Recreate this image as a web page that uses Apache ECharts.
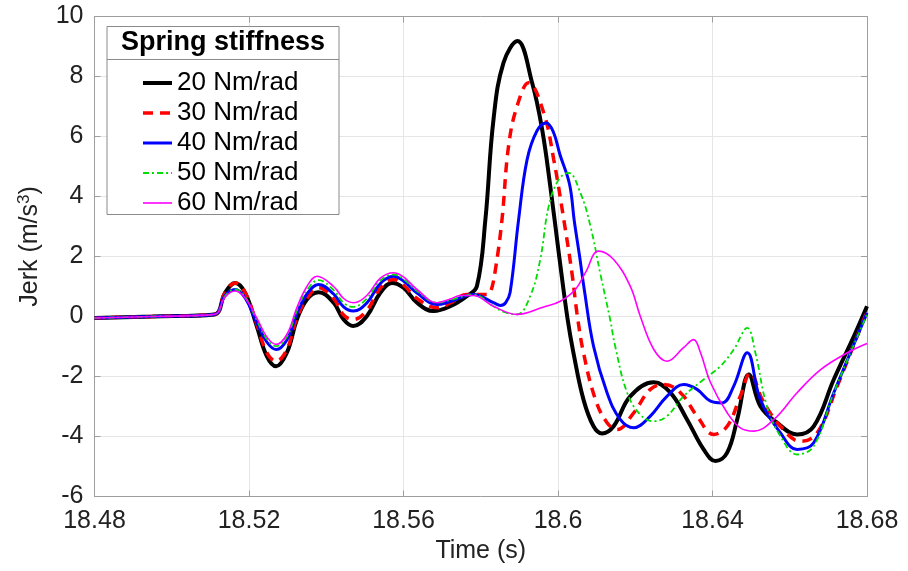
<!DOCTYPE html>
<html>
<head>
<meta charset="utf-8">
<script src="https://cdn.jsdelivr.net/npm/echarts@6/dist/echarts.min.js"></script>
<style>
  html, body { margin: 0; padding: 0; background: #fff; }
  #chart { width: 908px; height: 571px; }
</style>
</head>
<body>
<div id="chart"></div>
<script>
// legend labels
var names = ['20 Nm/rad', '30 Nm/rad', '40 Nm/rad', '50 Nm/rad', '60 Nm/rad'];

// 20 Nm/rad
var t20 = [18.48, 18.495, 18.511, 18.5138, 18.5164, 18.519, 18.522, 18.5246, 18.527, 18.5298, 18.5324, 18.535, 18.538, 18.5419, 18.5445, 18.547, 18.5505, 18.554, 18.557, 18.56, 18.5635, 18.5678, 18.5721, 18.5764, 18.579, 18.5812, 18.5833, 18.5859, 18.5895, 18.5933, 18.5959, 18.598, 18.6002, 18.6025, 18.604, 18.6066, 18.6092, 18.6114, 18.6144, 18.6187, 18.6248, 18.6291, 18.6334, 18.6377, 18.6408, 18.6438, 18.6464, 18.6494, 18.6524, 18.6567, 18.6619, 18.6662, 18.6714, 18.6766, 18.68];
var j20 = [-0.05, 0.0, 0.07, 0.79, 1.12, 0.79, -0.32, -1.32, -1.66, -1.21, -0.1, 0.57, 0.81, 0.46, -0.1, -0.32, 0.01, 0.79, 1.12, 0.96, 0.46, 0.18, 0.34, 0.68, 1.01, 3.23, 6.57, 8.46, 9.18, 7.79, 6.23, 4.34, 2.12, -0.1, -1.21, -2.77, -3.66, -3.9, -3.66, -2.66, -2.19, -2.54, -3.43, -4.43, -4.82, -4.54, -3.43, -1.93, -2.99, -3.54, -3.93, -3.66, -2.1, -0.66, 0.34];

// 30 Nm/rad
var t30 = [18.48, 18.495, 18.511, 18.5138, 18.5164, 18.519, 18.522, 18.5246, 18.527, 18.5298, 18.5324, 18.535, 18.538, 18.5419, 18.5445, 18.547, 18.5505, 18.554, 18.5574, 18.56, 18.5635, 18.5687, 18.5721, 18.5764, 18.5816, 18.5825, 18.5838, 18.5855, 18.5872, 18.5894, 18.5924, 18.5963, 18.5989, 18.6015, 18.6036, 18.6049, 18.6066, 18.6097, 18.6127, 18.6153, 18.6196, 18.6239, 18.6274, 18.6317, 18.636, 18.6403, 18.6438, 18.6472, 18.6498, 18.6529, 18.6576, 18.6628, 18.6671, 18.6723, 18.68];
var j30 = [-0.05, 0, 0.07, 0.8, 1.12, 0.8, -0.25, -1.2, -1.49, -1.1, -0.05, 0.6, 0.96, 0.6, 0.05, -0.1, 0.2, 0.95, 1.23, 1.05, 0.6, 0.29, 0.45, 0.73, 0.73, 0.8, 1.57, 3.23, 5.68, 7.01, 7.79, 6.79, 5.23, 3.23, 1.46, 0.12, -1.21, -2.77, -3.54, -3.77, -3.21, -2.43, -2.27, -2.54, -3.32, -3.93, -3.66, -2.66, -1.88, -2.77, -3.66, -4.16, -3.88, -2.32, 0.18];

// 40 Nm/rad
var t40 = [18.48, 18.495, 18.511, 18.5138, 18.5164, 18.519, 18.522, 18.5246, 18.527, 18.5298, 18.5324, 18.535, 18.538, 18.5419, 18.5445, 18.547, 18.5505, 18.554, 18.5574, 18.56, 18.5635, 18.5687, 18.5721, 18.5781, 18.5833, 18.5851, 18.5864, 18.5876, 18.5898, 18.592, 18.5946, 18.597, 18.5988, 18.6005, 18.603, 18.6042, 18.6056, 18.6068, 18.6092, 18.6127, 18.6161, 18.6196, 18.6239, 18.6282, 18.6325, 18.636, 18.6395, 18.6425, 18.6455, 18.649, 18.6524, 18.6576, 18.6619, 18.6662, 18.6714, 18.68];
var j40 = [-0.05, 0, 0.07, 0.7, 0.9, 0.62, -0.2, -0.85, -1.1, -0.78, 0.1, 0.75, 1.07, 0.75, 0.32, 0.18, 0.45, 1.1, 1.34, 1.18, 0.78, 0.4, 0.5, 0.73, 0.46, 0.37, 0.45, 0.8, 3.23, 5.23, 6.2, 6.45, 6.15, 5.4, 4.4, 3.2, 2.0, 0.9, -0.99, -2.54, -3.43, -3.71, -3.32, -2.66, -2.27, -2.43, -2.82, -2.88, -2.32, -1.21, -2.77, -3.88, -4.43, -4.21, -2.54, 0.12];

// 50 Nm/rad
var t50 = [18.48, 18.495, 18.511, 18.5138, 18.5164, 18.519, 18.522, 18.5246, 18.527, 18.5298, 18.5324, 18.535, 18.538, 18.5419, 18.5445, 18.547, 18.5505, 18.554, 18.5574, 18.56, 18.5635, 18.5687, 18.5721, 18.5781, 18.5833, 18.586, 18.5894, 18.5928, 18.5954, 18.5976, 18.6002, 18.6027, 18.6058, 18.6084, 18.611, 18.6135, 18.6148, 18.6179, 18.6213, 18.6248, 18.6282, 18.6325, 18.6377, 18.642, 18.6455, 18.649, 18.6511, 18.6541, 18.6576, 18.6619, 18.6662, 18.6714, 18.68];
var j50 = [-0.05, 0, 0.07, 0.68, 0.9, 0.65, -0.12, -0.75, -0.99, -0.68, 0.2, 0.88, 1.21, 0.88, 0.45, 0.32, 0.6, 1.2, 1.4, 1.25, 0.85, 0.46, 0.55, 0.73, 0.34, 0.15, 0.07, 0.68, 1.9, 3.68, 4.57, 4.79, 4.12, 3.01, 1.4, -0.1, -0.99, -2.54, -3.27, -3.49, -3.32, -2.66, -2.1, -1.66, -1.1, -0.38, -1.21, -2.99, -3.99, -4.6, -4.32, -2.54, 0.07];

// 60 Nm/rad
var t60 = [18.48, 18.495, 18.511, 18.5138, 18.5164, 18.519, 18.522, 18.5246, 18.527, 18.5298, 18.5324, 18.535, 18.5376, 18.5419, 18.5445, 18.547, 18.5505, 18.554, 18.5574, 18.56, 18.5635, 18.5687, 18.5721, 18.5747, 18.5781, 18.5833, 18.5894, 18.5963, 18.6006, 18.6045, 18.6071, 18.6105, 18.6144, 18.6187, 18.6213, 18.6248, 18.6282, 18.6325, 18.6351, 18.6369, 18.6395, 18.6438, 18.6472, 18.6507, 18.6559, 18.6619, 18.668, 18.6749, 18.68];
var j60 = [-0.05, 0, 0.07, 0.65, 0.85, 0.62, -0.05, -0.68, -0.93, -0.6, 0.3, 1.0, 1.34, 1.0, 0.6, 0.46, 0.7, 1.28, 1.46, 1.32, 0.9, 0.46, 0.58, 0.7, 0.7, 0.34, 0.07, 0.32, 0.51, 0.9, 1.46, 2.18, 1.9, 1.01, 0.01, -1.1, -1.49, -1.04, -0.77, -1.21, -2.21, -3.21, -3.71, -3.82, -3.43, -2.54, -1.77, -1.21, -0.9];

var xTicks = [18.48, 18.52, 18.56, 18.6, 18.64, 18.68];
var yTicks = [-6, -4, -2, 0, 2, 4, 6, 8, 10];

function pairs(t, v) {
    var out = [];
    for (var i = 0; i < Math.min(t.length, v.length); i++) out.push([t[i], v[i]]);
    return out;
}

var font = 'Liberation Sans, Arial, sans-serif';
var frame = '#9e9e9e';

// line looks per series: colour, width, dash
var styles = [
    { color: '#000000', width: 4, type: 'solid' },
    { color: '#ff0000', width: 3.5, type: [10, 7] },
    { color: '#0000ff', width: 3, type: 'solid' },
    { color: '#00dd00', width: 1.8, type: [6, 3, 2, 3] },
    { color: '#ff00ff', width: 1.6, type: 'solid' }
];

var chartDom = document.getElementById('chart');
var myChart = echarts.init(chartDom);
var option;

function mkLine(i, t, v) {
    var s = styles[i];
    return {
        name: names[i],
        type: 'line',
        data: pairs(t, v),
        smooth: 0.4,
        symbol: 'none',
        z: 2 + i,
        lineStyle: { color: s.color, width: s.width, type: s.type },
        itemStyle: { color: s.color },
        animation: false
    };
}

option = {
    backgroundColor: '#fff',
    animation: false,
    grid: { left: 94.5, right: 41, top: 16.5, bottom: 74.5, containLabel: false },
    graphic: [
        { type: 'rect', z: 5, shape: { x: 107, y: 26.5, width: 232, height: 188 },
          style: { fill: '#fff', stroke: '#8a8a8a', lineWidth: 1 } },
        { type: 'line', z: 6, shape: { x1: 107, y1: 59.5, x2: 339, y2: 59.5 },
          style: { stroke: '#8a8a8a', lineWidth: 1 } },
        { type: 'text', z: 6, x: 223, y: 43,
          style: { text: 'Spring stiffness', font: 'bold 27px ' + font, fill: '#000',
                   textAlign: 'center', textVerticalAlign: 'middle' } }
    ],
    legend: {
        data: names.map(function(n, i) {
            return { name: n, lineStyle: { width: styles[i].width, type: styles[i].type, color: styles[i].color } };
        }),
        orient: 'vertical',
        left: 136,
        top: 65,
        z: 10,
        itemWidth: 29,
        itemHeight: 14,
        itemGap: 4,
        selectedMode: false,
        itemStyle: { opacity: 0 },
        textStyle: { fontFamily: font, fontSize: 26, color: '#000', lineHeight: 26 }
    },
    xAxis: [{
        type: 'value',
        min: 18.48, max: 18.68, interval: 0.04,
        name: 'Time (s)',
        nameLocation: 'middle',
        nameGap: 38,
        nameTextStyle: { fontFamily: font, fontSize: 25, color: '#222' },
        axisLine: { onZero: false, lineStyle: { color: frame } },
        axisTick: { inside: true, length: 6, lineStyle: { color: frame } },
        axisLabel: { fontFamily: font, fontSize: 25, color: '#222', margin: 12,
                     formatter: function(v) { return String(+v.toFixed(2)); } },
        splitLine: { show: true, lineStyle: { color: '#e6e6e6' } }
    }, {
        type: 'value', position: 'top',
        min: 18.48, max: 18.68, interval: 0.04,
        axisLine: { show: true, onZero: false, lineStyle: { color: frame } },
        axisTick: { inside: true, length: 6, lineStyle: { color: frame } },
        axisLabel: { show: false },
        splitLine: { show: false }
    }],
    yAxis: [{
        type: 'value',
        min: -6, max: 10, interval: 2,
        name: 'Jerk (m/s{sup|3})',
        nameLocation: 'middle',
        nameGap: 50,
        nameTextStyle: { fontFamily: font, fontSize: 25, color: '#222', padding: [0, 0, 0, 20],
                         rich: { sup: { fontFamily: font, fontSize: 17, color: '#222', verticalAlign: 'top', padding: [0, 0, 12, 0] } } },
        axisLine: { show: true, onZero: false, lineStyle: { color: frame } },
        axisTick: { inside: true, length: 6, lineStyle: { color: frame } },
        axisLabel: { fontFamily: font, fontSize: 25, color: '#222', margin: 11 },
        splitLine: { show: true, lineStyle: { color: '#e6e6e6' } }
    }, {
        type: 'value', position: 'right',
        min: -6, max: 10, interval: 2,
        axisLine: { show: true, onZero: false, lineStyle: { color: frame } },
        axisTick: { inside: true, length: 6, lineStyle: { color: frame } },
        axisLabel: { show: false },
        splitLine: { show: false }
    }],
    series: [
        mkLine(0, t20, j20),
        mkLine(1, t30, j30),
        mkLine(2, t40, j40),
        mkLine(3, t50, j50),
        mkLine(4, t60, j60)
    ]
};

option && myChart.setOption(option);
</script>
</body>
</html>
